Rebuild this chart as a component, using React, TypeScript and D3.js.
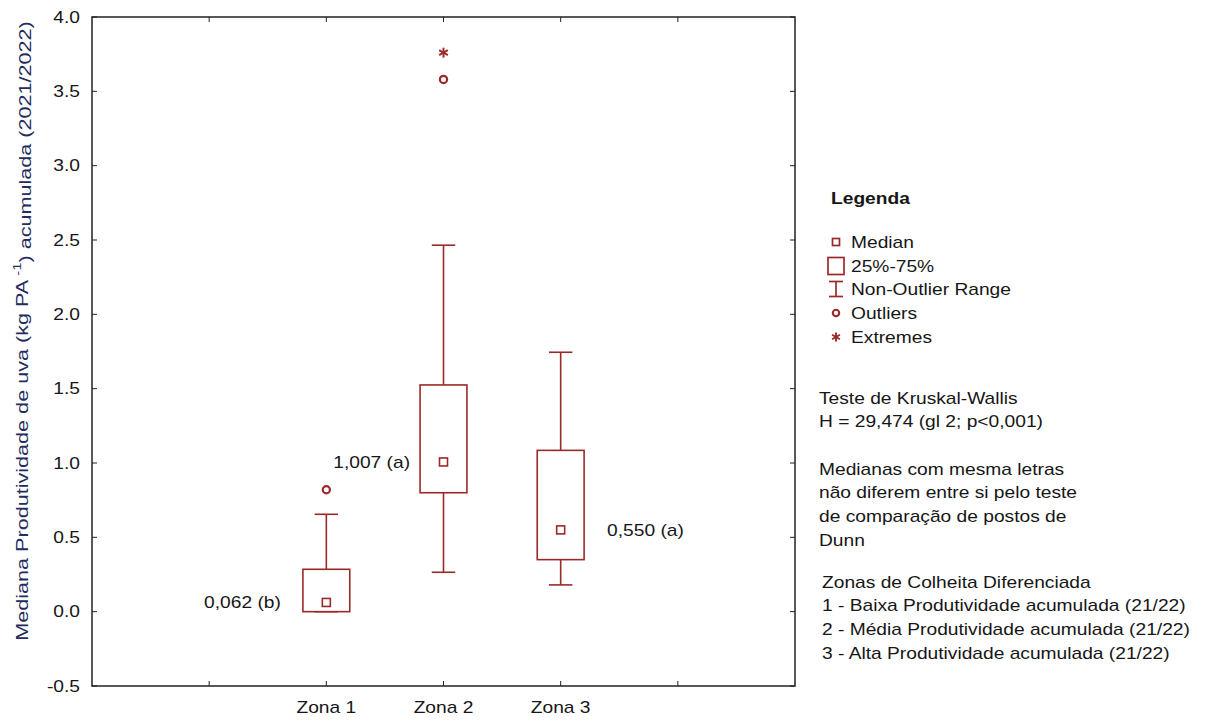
import React from "react";
import * as d3 from "d3";

// eixo x: posicoes 1..5, so as 3 do meio tem rotulo
const xSlots = ["", "Zona 1", "Zona 2", "Zona 3", " "];
const zones = ["Zona 1", "Zona 2", "Zona 3"];
const medians = [0.062, 1.007, 0.55];
const q1 = [0.0, 0.8, 0.35];
const q3 = [0.285, 1.525, 1.085];
const whiskerLow = [0.0, 0.265, 0.18];
const whiskerHigh = [0.655, 2.465, 1.745];
const outliers = [[0.82], [3.58], []];
const extremes = [[], [3.76], []];
const medianLabels = ["0,062 (b)", "1,007 (a)", "0,550 (a)"];
const yTicks = [-0.5, 0, 0.5, 1, 1.5, 2, 2.5, 3, 3.5, 4];

const legendItems = ["Median", "25%-75%", "Non-Outlier Range", "Outliers", "Extremes"];
const kruskalLines = ["Teste de Kruskal-Wallis", "H = 29,474 (gl 2; p<0,001)"];
const dunnLines = [
  "Medianas com mesma letras",
  "não diferem entre si pelo teste",
  "de comparação de postos de",
  "Dunn",
];
const zoneLines = [
  "Zonas de Colheita Diferenciada",
  "1 - Baixa Produtividade acumulada (21/22)",
  "2 - Média Produtividade acumulada (21/22)",
  "3 - Alta Produtividade acumulada (21/22)",
];

const W = 1205;
const H = 722;
const margin = { top: 17, right: 410, bottom: 36, left: 92 };
const RED = "#9a2a2a";
const INK = "#161616";
const FONT = "'Liberation Sans', Arial, sans-serif";
const SX = 1.2; // o texto do original e mais largo

// onde fica o rotulo da mediana em relacao a caixa
const labelPlace = [
  { anchor: "end", side: -1, gap: 22 },
  { anchor: "end", side: -1, gap: 10 },
  { anchor: "start", side: 1, gap: 23 },
];

function T({ x, y, children, anchor = "start", size = 16, weight = "normal", fill = INK, rotate = 0, sx = SX }: any) {
  return (
    <text
      transform={`translate(${x},${y})${rotate ? ` rotate(${rotate})` : ""} scale(${sx},1)`}
      textAnchor={anchor}
      dy="0.35em"
      fontSize={size}
      fontWeight={weight}
      fill={fill}
      fontFamily={FONT}
    >
      {children}
    </text>
  );
}

function Star({ cx, cy, r }: any) {
  const angles = [90, 30, -30];
  return (
    <g stroke={RED} strokeWidth={1.9}>
      {angles.map((a) => {
        const rad = (a * Math.PI) / 180;
        return (
          <line key={a} x1={cx - r * Math.cos(rad)} y1={cy - r * Math.sin(rad)} x2={cx + r * Math.cos(rad)} y2={cy + r * Math.sin(rad)} />
        );
      })}
    </g>
  );
}

export default function App() {
  const x = d3
    .scalePoint<string>()
    .domain(xSlots)
    .range([margin.left, W - margin.right])
    .padding(1);
  const y = d3
    .scaleLinear()
    .domain([-0.5, 4])
    .range([H - margin.bottom, margin.top]);
  const step = x.step();
  const boxW = step * 0.4;
  const capW = step * 0.2;
  const x0 = margin.left;
  const x1 = W - margin.right;
  const y0 = margin.top;
  const y1 = H - margin.bottom;
  const tk = 5;

  const lx = 836;
  const legendY = [242, 266, 289, 313, 337];

  return (
    <svg width={W} height={H} style={{ position: "absolute", left: 0, top: 0, background: "#fff" }}>
      {/* moldura e ticks para dentro */}
      <rect x={x0} y={y0} width={x1 - x0} height={y1 - y0} fill="none" stroke="#222" strokeWidth={1.5} />
      {yTicks.map((t) => (
        <g key={t}>
          <line x1={x0} x2={x0 + tk} y1={y(t)} y2={y(t)} stroke="#222" />
          <line x1={x1} x2={x1 - tk} y1={y(t)} y2={y(t)} stroke="#222" />
          <T x={80} y={y(t)} anchor="end">
            {t.toFixed(1)}
          </T>
        </g>
      ))}
      {xSlots.map((s) => (
        <g key={"x" + s}>
          <line x1={x(s)} x2={x(s)} y1={y1} y2={y1 - tk} stroke="#222" />
          <line x1={x(s)} x2={x(s)} y1={y0} y2={y0 + tk} stroke="#222" />
          {s.trim() && (
            <T x={x(s)} y={707} anchor="middle">
              {s}
            </T>
          )}
        </g>
      ))}

      <T x={22} y={331} anchor="middle" rotate={-90} fill="#232c5c" sx={1.35}>
        Mediana Produtividade de uva (kg PA<tspan dy="-0.6em" fontSize={11}> -1</tspan>
        <tspan dy="0.6em">) acumulada (2021/2022)</tspan>
      </T>

      {/* caixas */}
      {zones.map((z, i) => {
        const cx = x(z)!;
        const pl = labelPlace[i];
        return (
          <g key={z} fill="none" stroke={RED} strokeWidth={1.6}>
            <line x1={cx} x2={cx} y1={y(q3[i])} y2={y(whiskerHigh[i])} />
            <line x1={cx} x2={cx} y1={y(q1[i])} y2={y(whiskerLow[i])} />
            <line x1={cx - capW / 2} x2={cx + capW / 2} y1={y(whiskerHigh[i])} y2={y(whiskerHigh[i])} />
            <line x1={cx - capW / 2} x2={cx + capW / 2} y1={y(whiskerLow[i])} y2={y(whiskerLow[i])} />
            <rect x={cx - boxW / 2} y={y(q3[i])} width={boxW} height={y(q1[i]) - y(q3[i])} fill="#fff" />
            <rect x={cx - 4} y={y(medians[i]) - 4} width={8} height={8} />
            {outliers[i].map((o) => (
              <circle key={o} cx={cx} cy={y(o)} r={3.6} strokeWidth={2.2} />
            ))}
            {extremes[i].map((e) => (
              <Star key={e} cx={cx} cy={y(e)} r={5} />
            ))}
            <g stroke="none">
              <T x={cx + pl.side * (boxW / 2 + pl.gap)} y={y(medians[i])} anchor={pl.anchor}>
                {medianLabels[i]}
              </T>
            </g>
          </g>
        );
      })}

      {/* legenda */}
      <T x={831} y={198} weight="bold">
        Legenda
      </T>
      <g fill="none" stroke={RED} strokeWidth={1.7}>
        <rect x={lx - 3.5} y={legendY[0] - 3.5} width={7} height={7} />
        <rect x={lx - 8} y={legendY[1] - 8.5} width={16} height={17} />
        <line x1={lx - 7} x2={lx + 7} y1={legendY[2] - 7.5} y2={legendY[2] - 7.5} />
        <line x1={lx - 7} x2={lx + 7} y1={legendY[2] + 7.5} y2={legendY[2] + 7.5} />
        <line x1={lx} x2={lx} y1={legendY[2] - 7.5} y2={legendY[2] + 7.5} />
        <circle cx={lx} cy={legendY[3]} r={3.2} strokeWidth={2.1} />
      </g>
      <Star cx={lx} cy={legendY[4]} r={4.5} />
      {legendItems.map((t, i) => (
        <T key={t} x={851} y={legendY[i]}>
          {t}
        </T>
      ))}

      {kruskalLines.map((t, i) => (
        <T key={t} x={819} y={398 + i * 23.8}>
          {t}
        </T>
      ))}
      {dunnLines.map((t, i) => (
        <T key={t} x={819} y={469 + i * 23.8}>
          {t}
        </T>
      ))}
      {zoneLines.map((t, i) => (
        <T key={t} x={822} y={582 + i * 23.8}>
          {t}
        </T>
      ))}
    </svg>
  );
}
